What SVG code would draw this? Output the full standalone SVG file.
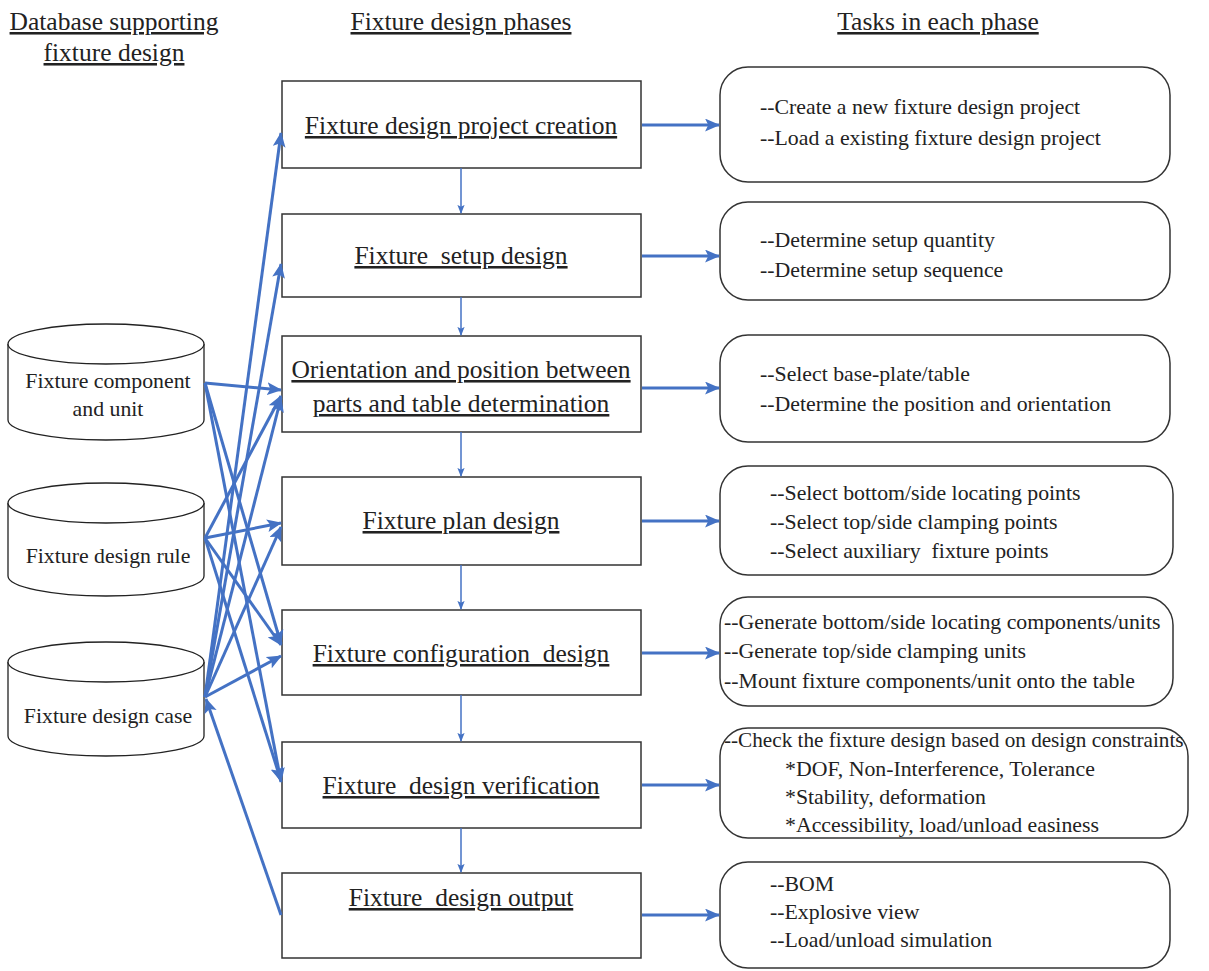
<svg xmlns="http://www.w3.org/2000/svg" width="1209" height="971" viewBox="0 0 1209 971">
<defs>
<style>
.hdr{font-family:"Liberation Serif","Times New Roman",serif;font-size:25.5px;fill:#222;text-anchor:middle;text-decoration:underline}
.ph{font-family:"Liberation Serif","Times New Roman",serif;font-size:25.5px;fill:#222;text-anchor:middle;text-decoration:underline}
.tk{font-family:"Liberation Serif","Times New Roman",serif;font-size:21.8px;fill:#222}
.cy{font-family:"Liberation Serif","Times New Roman",serif;font-size:21.8px;fill:#222;text-anchor:middle}
.box{fill:#fff;stroke:#333;stroke-width:1.5}
.rbox{fill:#fff;stroke:#333;stroke-width:1.5}
.cyl{fill:#fff;stroke:#222;stroke-width:1.3}
.a{stroke:#4472C4;stroke-width:3;fill:none;marker-end:url(#ah)}
.at{stroke:#4472C4;stroke-width:1.5;fill:none;marker-end:url(#aht)}
</style>
<marker id="ah" viewBox="0 0 14 12" refX="13" refY="6" markerWidth="15" markerHeight="13" markerUnits="userSpaceOnUse" orient="auto">
<path d="M0,0 L14,6 L0,12 L3,6 z" fill="#4472C4"/>
</marker>
<marker id="aht" viewBox="0 0 10 8" refX="9" refY="4" markerWidth="9" markerHeight="8" markerUnits="userSpaceOnUse" orient="auto">
<path d="M0,0 L10,4 L0,8 L2,4 z" fill="#4472C4"/>
</marker>
</defs>
<rect width="1209" height="971" fill="#fff"/>

<g id="headers">
<text class="hdr" x="114" y="30">Database supporting</text>
<text class="hdr" x="114" y="61">fixture design</text>
<text class="hdr" x="461" y="30">Fixture design phases</text>
<text class="hdr" x="938" y="30">Tasks in each phase</text>
</g>

<g id="db1">
<path class="cyl" d="M8,344 L8,420 A98,20 0 0 0 204,420 L204,344"/>
<ellipse class="cyl" cx="106" cy="344" rx="98" ry="20"/>
<text class="cy" x="108" y="388">Fixture component</text>
<text class="cy" x="108" y="416">and unit</text>
</g>
<g id="db2">
<path class="cyl" d="M8,503 L8,576 A98,20 0 0 0 204,576 L204,503"/>
<ellipse class="cyl" cx="106" cy="503" rx="98" ry="20"/>
<text class="cy" x="108" y="563">Fixture design rule</text>
</g>
<g id="db3">
<path class="cyl" d="M8,662 L8,736 A98,20 0 0 0 204,736 L204,662"/>
<ellipse class="cyl" cx="106" cy="662" rx="98" ry="20"/>
<text class="cy" x="108" y="723">Fixture design case</text>
</g>

<g id="phase1"><rect class="box" x="282" y="81" width="359" height="87"/><text class="ph" x="461" y="134">Fixture design project creation</text></g>
<g id="phase2"><rect class="box" x="282" y="214" width="359" height="83"/><text class="ph" x="461" y="264" xml:space="preserve">Fixture  setup design</text></g>
<g id="phase3"><rect class="box" x="282" y="336" width="359" height="96"/><text class="ph" x="461" y="378">Orientation and position between</text><text class="ph" x="461" y="412">parts and table determination</text></g>
<g id="phase4"><rect class="box" x="282" y="477" width="359" height="88"/><text class="ph" x="461" y="529">Fixture plan design</text></g>
<g id="phase5"><rect class="box" x="282" y="610" width="359" height="85"/><text class="ph" x="461" y="662" xml:space="preserve">Fixture configuration  design</text></g>
<g id="phase6"><rect class="box" x="282" y="742" width="359" height="86"/><text class="ph" x="461" y="794" xml:space="preserve">Fixture  design verification</text></g>
<g id="phase7"><rect class="box" x="282" y="873" width="359" height="85"/><text class="ph" x="461" y="906" xml:space="preserve">Fixture  design output</text></g>

<g id="task1"><rect class="rbox" x="720" y="67" width="450" height="115" rx="28"/>
<text class="tk" x="760" y="114">--Create a new fixture design project</text>
<text class="tk" x="760" y="145">--Load a existing fixture design project</text></g>
<g id="task2"><rect class="rbox" x="720" y="202" width="450" height="98" rx="28"/>
<text class="tk" x="760" y="247">--Determine setup quantity</text>
<text class="tk" x="760" y="277">--Determine setup sequence</text></g>
<g id="task3"><rect class="rbox" x="720" y="335" width="450" height="107" rx="28"/>
<text class="tk" x="760" y="381">--Select base-plate/table</text>
<text class="tk" x="760" y="411">--Determine the position and orientation</text></g>
<g id="task4"><rect class="rbox" x="720" y="466" width="453" height="109" rx="28"/>
<text class="tk" x="770" y="500">--Select bottom/side locating points</text>
<text class="tk" x="770" y="529">--Select top/side clamping points</text>
<text class="tk" x="770" y="558" xml:space="preserve">--Select auxiliary  fixture points</text></g>
<g id="task5"><rect class="rbox" x="720" y="597" width="453" height="109" rx="28"/>
<text class="tk" x="724" y="629">--Generate bottom/side locating components/units</text>
<text class="tk" x="724" y="658">--Generate top/side clamping units</text>
<text class="tk" x="724" y="688">--Mount fixture components/unit onto the table</text></g>
<g id="task6"><rect class="rbox" x="720" y="728" width="468" height="110" rx="28"/>
<text class="tk" x="724" y="747" style="font-size:21.2px">--Check the fixture design based on design constraints</text>
<text class="tk" x="785" y="776">*DOF, Non-Interference, Tolerance</text>
<text class="tk" x="785" y="804">*Stability, deformation</text>
<text class="tk" x="785" y="832">*Accessibility, load/unload easiness</text></g>
<g id="task7"><rect class="rbox" x="720" y="862" width="450" height="106" rx="28"/>
<text class="tk" x="770" y="891">--BOM</text>
<text class="tk" x="770" y="919">--Explosive view</text>
<text class="tk" x="770" y="947">--Load/unload simulation</text></g>

<g id="connectors">
<line class="at" x1="461" y1="168" x2="461" y2="213"/>
<line class="at" x1="461" y1="297" x2="461" y2="335"/>
<line class="at" x1="461" y1="432" x2="461" y2="476"/>
<line class="at" x1="461" y1="565" x2="461" y2="609"/>
<line class="at" x1="461" y1="695" x2="461" y2="741"/>
<line class="at" x1="461" y1="828" x2="461" y2="872"/>

<line class="a" x1="642" y1="125" x2="719" y2="125"/>
<line class="a" x1="642" y1="256" x2="719" y2="256"/>
<line class="a" x1="642" y1="388" x2="719" y2="388"/>
<line class="a" x1="642" y1="521" x2="719" y2="521"/>
<line class="a" x1="642" y1="653" x2="719" y2="653"/>
<line class="a" x1="642" y1="785" x2="719" y2="785"/>
<line class="a" x1="642" y1="915" x2="719" y2="915"/>

<line class="a" x1="205" y1="383" x2="281" y2="390"/>
<line class="a" x1="205" y1="383" x2="281" y2="644"/>
<line class="a" x1="205" y1="383" x2="281" y2="782"/>

<line class="a" x1="205" y1="538" x2="281" y2="523"/>
<line class="a" x1="205" y1="538" x2="281" y2="396"/>
<line class="a" x1="205" y1="538" x2="281" y2="645"/>
<line class="a" x1="205" y1="538" x2="281" y2="781"/>

<line class="a" x1="205" y1="697" x2="281" y2="133"/>
<line class="a" x1="205" y1="697" x2="281" y2="264"/>
<line class="a" x1="205" y1="697" x2="281" y2="398"/>
<line class="a" x1="205" y1="697" x2="281" y2="527"/>
<line class="a" x1="205" y1="697" x2="281" y2="656"/>
<line class="a" x1="281" y1="915" x2="206" y2="699"/>
</g>
</svg>
